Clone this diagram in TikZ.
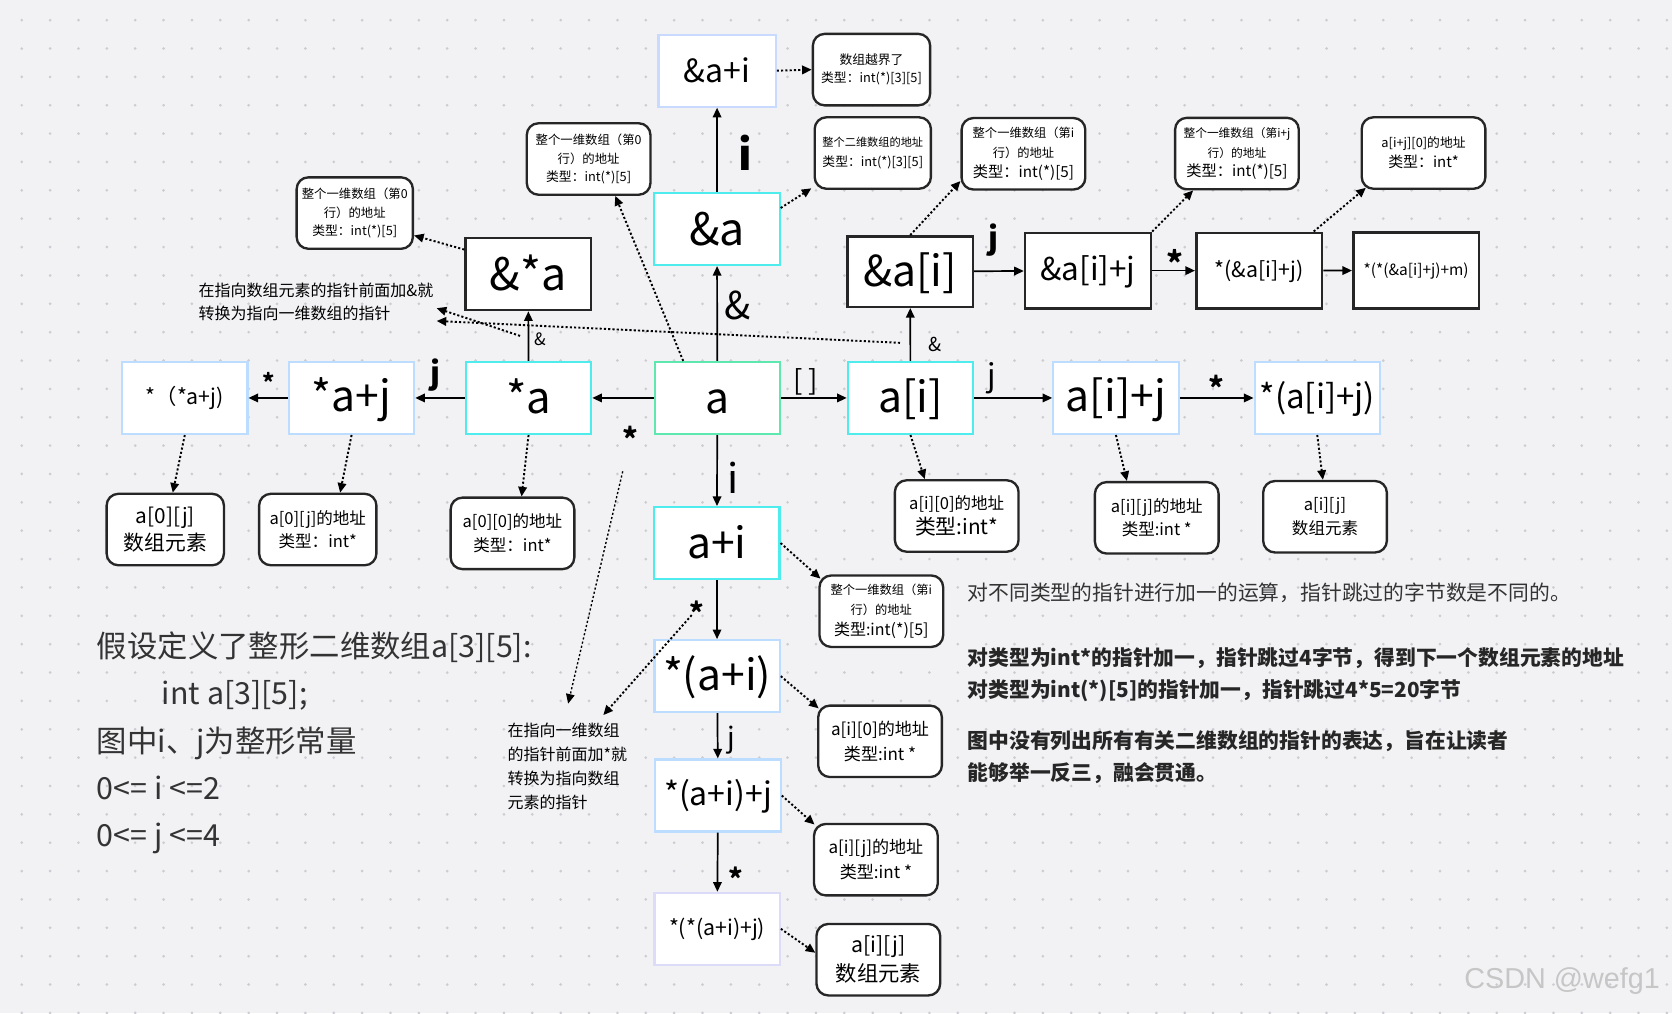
\documentclass[tikz,border=0pt]{standalone}
\usepackage{fontspec}
\setmainfont{Noto Sans CJK SC}
\newfontfamily\wmfont{Liberation Sans}
\usetikzlibrary{arrows.meta}
\definecolor{bgcolor}{RGB}{242,242,245}
\definecolor{dotcolor}{RGB}{204,204,210}
\definecolor{mintline}{RGB}{94,232,176}
\definecolor{cyanline}{RGB}{78,236,236}
\definecolor{skyline}{RGB}{188,221,255}
\definecolor{paleline}{RGB}{200,218,255}
\definecolor{lavline}{RGB}{220,220,248}
\newcommand{\fsz}[2]{\fontsize{#1}{#2}\selectfont}
\tikzset{
  ptr/.style      = {draw, fill=white, line width=2pt, minimum width=117.5pt,
                     minimum height=67.5pt, inner sep=0pt,
                     execute at begin node={\rule[-0.14em]{0pt}{1em}}},
  cmt/.style      = {draw=black!85, fill=white, line width=2.2pt, rounded corners=11pt,
                     minimum width=116pt, minimum height=67pt, inner sep=1pt, align=center},
  arrow/.style    = {-{Triangle[length=9pt,width=8pt]}, line width=1.6pt},
  dotarrow/.style = {-{Triangle[length=9pt,width=8pt]}, line width=1.8pt,
                     dash pattern=on 2pt off 2pt},
  oplbl/.style    = {inner sep=0pt},
}

\begin{document}
\begin{tikzpicture}[
    x=1pt, y=-1pt,
    mintbox/.style={ptr, draw=mintline},
    cyanbox/.style={ptr, draw=cyanline},
    skybox/.style ={ptr, draw=skyline},
    palebox/.style={ptr, draw=paleline},
    lavbox/.style ={ptr, draw=lavline},
    blkbox/.style ={ptr, draw=black!85, line width=2.4pt}
]

% background with dot grid
\fill[bgcolor] (0,0) rectangle (1568,950);
\useasboundingbox (0,0) rectangle (1568,950);
\foreach \i in {0,...,58} {
  \foreach \j in {0,...,35} {
    \fill[dotcolor] (20.4+26.6*\i, 18.9+26.6*\j) circle (1.4pt);
  }
}

% the array name
\node[mintbox, font=\fsz{40}{40}] (a) at (672.7,373.2) {a};

% to the left: *a
\node[cyanbox, font=\fsz{41}{41}] (da)   at (495.7,373.2) {*a};
\node[skybox,  font=\fsz{40}{40}] (daj)  at (329.7,373.2) {*a+j};
\node[skybox,  font=\fsz{20}{20}] (ddaj) at (173.3,373.2) {*（*a+j)};

% upwards: &*a, &a, &a+i
\node[blkbox,  font=\fsz{42}{42}] (rda) at (495.4,257.0) {\&*a};
\node[cyanbox, font=\fsz{42}{42}] (ra)  at (672.4,214.8) {\&a};
\node[palebox, minimum width=110pt, font=\fsz{30}{30}] (rai) at (672.5,66.3) {\&a+i};

% to the right: a[i]
\node[cyanbox, font=\fsz{40}{40}] (ai)   at (853.8,373.2)  {a[i]};
\node[skybox,  font=\fsz{40}{40}] (aij)  at (1046.5,373.2) {a[i]+j};
\node[skybox,  font=\fsz{31}{31}] (daij) at (1235.3,373.2) {*(a[i]+j)};

% &a[i] row
\node[blkbox, minimum height=66pt, font=\fsz{40}{40}] (rsub) at (853.6,254.7) {\&a[i]};
\node[blkbox, minimum width=118pt, minimum height=71pt, font=\fsz{29.5}{29.5}] (rsubj)   at (1020.3,253.8) {\&a[i]+j};
\node[blkbox, minimum width=118pt, minimum height=71pt, font=\fsz{20}{20}] (drsubj)  at (1180.8,253.8) {*(\&a[i]+j)};
\node[blkbox, minimum width=118pt, minimum height=71pt, font=\fsz{14.5}{14.5}] (ddrsubj) at (1328.1,253.7) {*(*(\&a[i]+j)+m)};

% downwards: a+i
\node[cyanbox, font=\fsz{40}{40}] (api)    at (672.3,509.3) {a+i};
\node[skybox,  font=\fsz{40}{40}] (dapi)   at (672.5,634.1) {*(a+i)};
\node[skybox,  font=\fsz{30}{30}] (dapij)  at (673.4,746.0) {*(a+i)+j};
\node[lavbox,  font=\fsz{20}{20}] (ddapij) at (672.5,871.0) {*(*(a+i)+j)};

% comment boxes
\node[cmt, minimum width=110pt, font=\fsz{12}{17.2}] (c-rai) at (817.3,65.3)
  {数组越界了\\类型：int(*)[3][5]};
\node[cmt, minimum width=109pt, font=\fsz{10.5}{18.8}] (c-ra) at (818.5,143.5)
  {整个二维数组的地址\\{\fsz{12}{18.8}类型：int(*)[3][5]}};
\node[cmt, font=\fsz{11.6}{17.2}] (c-a) at (552,149.1)
  {整个一维数组（第0\\行）的地址\\{\fsz{12}{17.2}类型：int(*)[5]}};
\node[cmt, minimum width=109pt, font=\fsz{11.6}{17.6}] (c-rda) at (332.7,199.8)
  {整个一维数组（第0\\行）的地址\\{\fsz{12}{17.6}类型：int(*)[5]}};
\node[cmt, font=\fsz{11.5}{18.5}] (c-rsub) at (959.8,144.2)
  {整个一维数组（第i\\行）的地址\\{\fsz{14.3}{18.5}类型：int(*)[5]}};
\node[cmt, font=\fsz{11}{18.5}] (c-rsubj) at (1160,144)
  {整个一维数组（第i+j\\行）的地址\\{\fsz{14.3}{18.5}类型：int(*)[5]}};
\node[cmt, font=\fsz{12}{19}] (c-drsubj) at (1335,143.5)
  {a[i+j][0]的地址\\{\fsz{14}{19}类型：int*}};

\node[cmt, minimum width=110pt, font=\fsz{19.5}{25}] (c-ddaj) at (155,496.6)
  {a[0][j]\\数组元素};
\node[cmt, minimum width=110pt, font=\fsz{15.5}{22}] (c-daj) at (298,496.6)
  {a[0][j]的地址\\类型：int*};
\node[cmt, font=\fsz{15.5}{22}] (c-da) at (480.6,500.2)
  {a[0][0]的地址\\类型：int*};
\node[cmt, font=\fsz{15.5}{24}] (c-ai) at (897.2,483.9)
  {a[i][0]的地址\\{\fsz{19.5}{24}类型:int*}};
\node[cmt, font=\fsz{15.5}{22}] (c-aij) at (1084.8,485.6)
  {a[i][j]的地址\\类型:int *};
\node[cmt, font=\fsz{15.5}{22}] (c-daij) at (1242.6,484.6)
  {a[i][j]\\数组元素};

\node[cmt, font=\fsz{11.5}{19}] (c-api) at (826.5,573.2)
  {整个一维数组（第i\\行）的地址\\{\fsz{15}{19}类型:int(*)[5]}};
\node[cmt, font=\fsz{16}{23}] (c-dapi) at (825.3,695.2)
  {a[i][0]的地址\\类型:int *};
\node[cmt, font=\fsz{16}{23}] (c-dapij) at (821.4,806.2)
  {a[i][j]的地址\\类型:int *};
\node[cmt, font=\fsz{20}{27}] (c-ddapij) at (823.7,900.0)
  {a[i][j]\\数组元素};

% free notes
\node[anchor=north west, inner sep=0pt, align=left, font=\fsz{15}{22}] (note-amp) at (186,265)
  {在指向数组元素的指针前面加\&就\\转换为指向一维数组的指针};
\node[anchor=north west, inner sep=0pt, align=left, font=\fsz{15}{22.4}] (note-star) at (475.8,677.9)
  {在指向一维数组\\的指针前面加*就\\转换为指向数组\\元素的指针};
\node[anchor=north west, inner sep=0pt, align=left, font=\fsz{28.5}{44.3}, text=black!80] (intro) at (90.7,592.4)
  {假设定义了整形二维数组a[3][5]:\\\hspace{61pt}int a[3][5];\\图中i、j为整形常量\\0<= i <=2\\0<= j <=4};
\node[anchor=west, inner sep=0pt, font=\fsz{19.5}{29.7}, text=black!80] (desc1) at (907.4,556)
  {对不同类型的指针进行加一的运算，指针跳过的字节数是不同的。};
\node[anchor=north west, inner sep=0pt, align=left, font=\fsz{19.5}{29.7}\bfseries, text=black!85] (desc2) at (907.4,607)
  {对类型为int*的指针加一，指针跳过4字节，得到下一个数组元素的地址\\对类型为int(*)[5]的指针加一，指针跳过4*5=20字节};
\node[anchor=north west, inner sep=0pt, align=left, font=\fsz{19.5}{29.7}\bfseries, text=black!85] (desc3) at (907.4,685.2)
  {图中没有列出所有有关二维数组的指针的表达，旨在让读者\\能够举一反三，融会贯通。};
\node[anchor=west, inner sep=0pt, font=\wmfont\fsz{27}{27}, text=gray!45] (wm) at (1373,920)
  {CSDN @wefg1};

% operator labels
\node[oplbl, font=\fsz{38}{38}] (l-api) at (687,447.8) {i};
\node[oplbl, font=\fsz{36}{36}] (l-ra) at (691.7,286.8) {\&};
\node[oplbl, font=\fsz{40}{40}\bfseries] (l-rai) at (698.7,143.7) {i};
\node[oplbl, font=\fsz{26}{26}] (l-ai) at (755.5,358) {[ ]};
\node[oplbl, font=\fsz{29}{29}] (l-aij) at (929.7,354.8) {j};
\node[oplbl, anchor=north, font=\fsz{28}{28}\bfseries] (l-daij) at (1140.7,351.9) {*};
\node[oplbl, anchor=north, font=\fsz{28}{28}\bfseries] (l-da) at (591.4,399.7) {*};
\node[oplbl, font=\fsz{29}{29}\bfseries] (l-daj) at (408.6,351.7) {j};
\node[oplbl, anchor=north, font=\fsz{22}{22}\bfseries] (l-ddaj) at (252.2,348.8) {*};
\node[oplbl, font=\fsz{16}{16}] (l-rda) at (506.4,318.2) {\&};
\node[oplbl, font=\fsz{18}{18}] (l-rsub) at (877.2,323.5) {\&};
\node[oplbl, font=\fsz{29}{29}\bfseries] (l-rsubj) at (931.6,225) {j};
\node[oplbl, anchor=north, font=\fsz{30}{30}\bfseries] (l-drsubj) at (1102,233.7) {*};
\node[oplbl, anchor=north, font=\fsz{26}{26}\bfseries] (l-dapi) at (653.4,563) {*};
\node[oplbl, font=\fsz{26}{26}] (l-dapij) at (686.2,694) {j};
\node[oplbl, anchor=north, font=\fsz{26}{26}\bfseries] (l-ddapij) at (690.2,813.2) {*};

% operator arrows
\foreach \s/\t in {a/da, da/daj, daj/ddaj, da/rda, a/ra, ra/rai, a/ai, ai/aij,
                   aij/daij, ai/rsub, rsub/rsubj, rsubj/drsubj, drsubj/ddrsubj,
                   a/api, api/dapi, dapi/dapij, dapij/ddapij} {
    \draw[arrow] (\s) -- (\t);
}

% meaning arrows
\draw[dotarrow] (rai.east) -- (c-rai.west);
\draw[dotarrow] ([yshift=-15pt]ra.north east) -- ([xshift=-2pt,yshift=1.5pt]c-ra.south west);
\draw[dotarrow] ([yshift=-12pt]rda.north west) -- ([yshift=-21pt]c-rda.east);
\draw[dotarrow] ([xshift=-32pt]a.north) -- ([xshift=25pt]c-a.south);
\draw[dotarrow] (rsub.north) -- ([yshift=9pt]c-rsub.south west);
\draw[dotarrow] (rsubj.north east) -- ([xshift=18pt]c-rsubj.south west);
\draw[dotarrow] ([xshift=-9pt]drsubj.north east) -- ([xshift=5pt,yshift=2pt]c-drsubj.south west);
\draw[dotarrow] (ddaj.south) -- ([xshift=7pt]c-ddaj.north);
\draw[dotarrow] (daj.south) -- ([xshift=21pt]c-daj.north);
\draw[dotarrow] (da.south) -- ([xshift=8.5pt]c-da.north);
\draw[dotarrow] (ai.south) -- ([xshift=-30pt]c-ai.north);
\draw[dotarrow] (aij.south) -- ([xshift=-28pt]c-aij.north);
\draw[dotarrow] (daij.south) -- ([xshift=-2pt]c-daij.north);
\draw[dotarrow] (api.east) -- ([xshift=2pt,yshift=-4pt]c-api.north west);
\draw[dotarrow] (dapi.east) -- ([xshift=1.5pt,yshift=-3.7pt]c-dapi.north west);
\draw[dotarrow] (dapij.east) -- ([xshift=1.5pt,yshift=-1.6pt]c-dapij.north west);
\draw[dotarrow] (ddapij.east) -- ([yshift=6.5pt]c-ddapij.west);

% arrows to the free notes
\coordinate (p-rda)  at (487.7,315);
\coordinate (p-rsub) at (844,321.5);
\coordinate (p-da)   at (584,442);
\coordinate (p-dapi) at (648.7,576.8);
\draw[dotarrow] (p-rda) -- ([xshift=223.5pt,yshift=-24pt]note-amp.north west);
\draw[dotarrow] (p-rsub) -- ([xshift=223.5pt,yshift=-36pt]note-amp.north west);
\draw[dotarrow, line width=1.3pt] (p-da) -- ([xshift=57pt,yshift=18pt]note-star.north west);
\draw[dotarrow] (p-dapi) -- ([xshift=90pt,yshift=7.3pt]note-star.north west);

\end{tikzpicture}
\end{document}
